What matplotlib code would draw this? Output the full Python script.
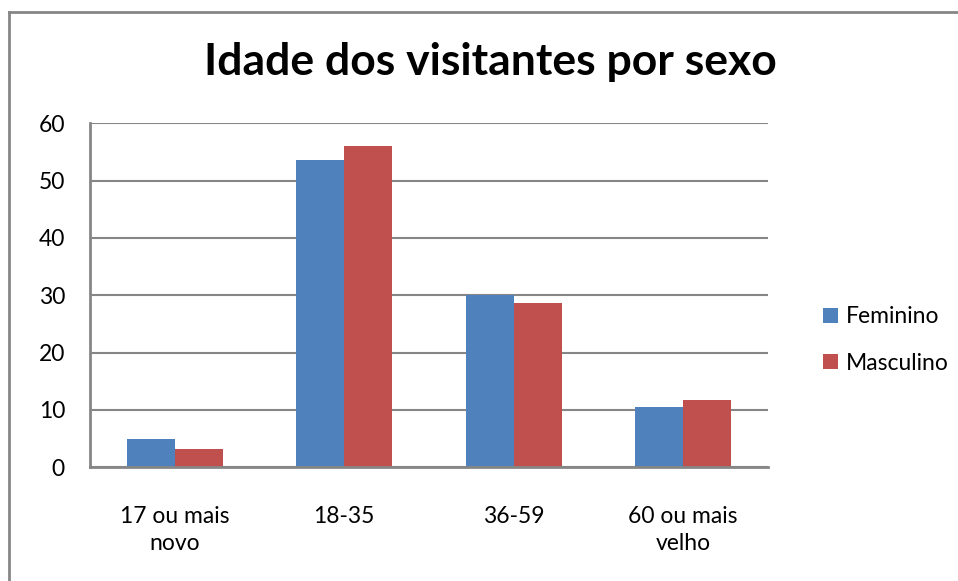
import matplotlib.pyplot as plt
from matplotlib.lines import Line2D
import numpy as np

categories = ['17 ou mais\nnovo', '18-35', '36-59', '60 ou mais\nvelho']
feminino = [4.9, 53.6, 30.0, 10.5]
masculino = [3.25, 56.0, 28.7, 11.8]
yticks = [0, 10, 20, 30, 40, 50, 60]

plt.rcParams['font.family'] = ['Lato', 'DejaVu Sans']

fig = plt.figure(figsize=(9.58, 5.81), dpi=100)
ax = fig.add_axes([90 / 958, 1 - 467.3 / 581, 678 / 958, (467.3 - 123.3) / 581])

x = np.arange(len(categories))
w = 0.283
ax.bar(x - w / 2, feminino, w, color='#4F81BD', label='Feminino', zorder=3)
ax.bar(x + w / 2, masculino, w, color='#C0504D', label='Masculino', zorder=3)

ax.set_xlim(-0.5, len(categories) - 0.5)
ax.set_ylim(0, 60)
ax.set_yticks(yticks)
ax.set_yticklabels([str(t) for t in yticks], fontsize=16.5)
ax.set_xticks(x)
ax.set_xticklabels(categories, fontsize=16.5, linespacing=1.35)
ax.tick_params(axis='y', length=0, pad=18)
ax.tick_params(axis='x', length=0, pad=28)
ax.yaxis.grid(True, color='#868686', linewidth=1.5, zorder=0)
for s in ['top', 'right']:
    ax.spines[s].set_visible(False)
for s in ['left', 'bottom']:
    ax.spines[s].set_color('#868686')
    ax.spines[s].set_linewidth(2)
ax.spines['bottom'].set_zorder(4)

fig.text(490 / 958, 1 - 62 / 581, 'Idade dos visitantes por sexo',
         ha='center', va='center', fontsize=32, fontweight='bold')

ax.legend(loc='center left', bbox_to_anchor=(802 / 958, 1 - 340 / 581),
          bbox_transform=fig.transFigure, frameon=False, fontsize=16.5,
          handlelength=0.65, handleheight=0.65, handletextpad=0.35, labelspacing=1.1)

# outer chart frame (only top and left edges are visible)
fig.add_artist(Line2D([9 / 958, 1.05], [1 - 12 / 581, 1 - 12 / 581],
                      transform=fig.transFigure, color='#868686', linewidth=2))
fig.add_artist(Line2D([9 / 958, 9 / 958], [-0.05, 1 - 12 / 581],
                      transform=fig.transFigure, color='#868686', linewidth=2))

fig.savefig('out.png', dpi=100)
